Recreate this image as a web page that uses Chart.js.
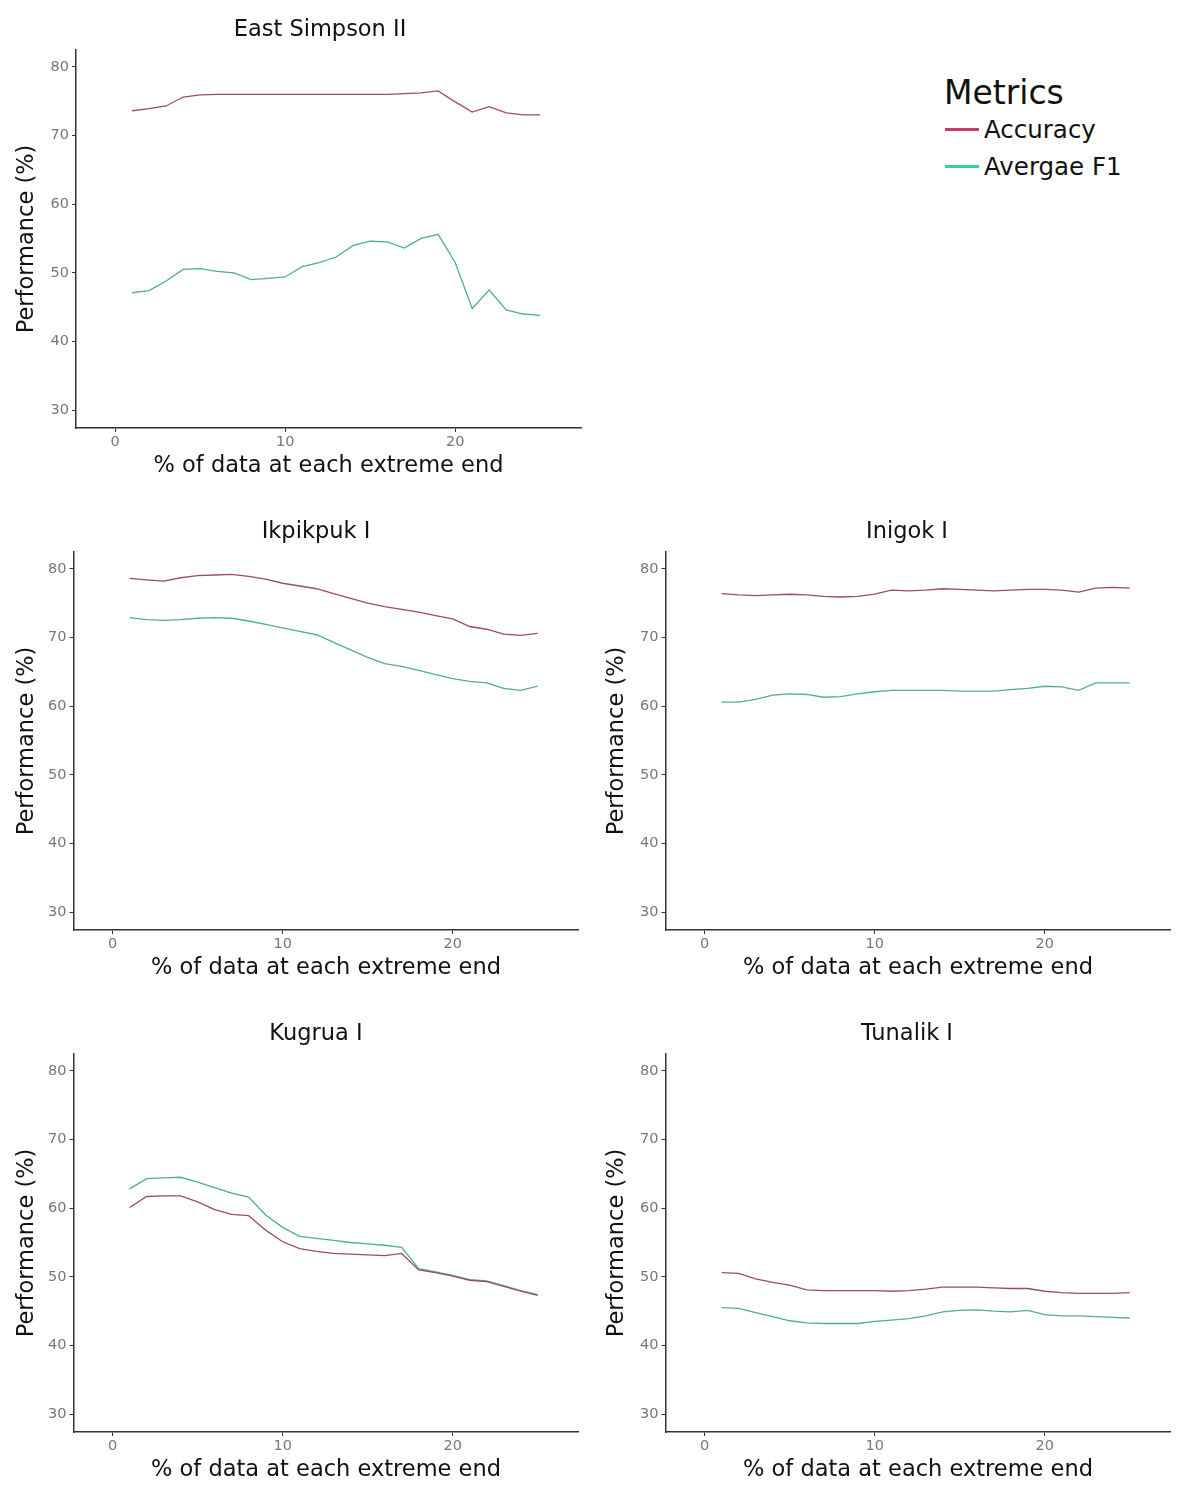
<!DOCTYPE html>
<html><head><meta charset="utf-8">
<script src="https://cdn.jsdelivr.net/npm/chart.js@4.4.1/dist/chart.umd.min.js"></script>
<style>
body{margin:0;background:#fff;width:1177px;height:1485px;position:relative;overflow:hidden;font-family:"DejaVu Sans",sans-serif}
canvas{position:absolute}
#legend{position:absolute;left:944px;top:75px;color:#111}
#legend .t{font-size:33px;line-height:36px;margin-left:0px}
#legend .it{position:relative;height:37px;font-size:24.5px;line-height:37px;padding-left:40px}
#legend .sw{position:absolute;left:1px;top:17px;width:34px;height:3px}
</style></head><body>
<canvas id="c0" width="590" height="484" style="left:0;top:0"></canvas>
<canvas id="c1" width="590" height="484" style="left:0;top:502px"></canvas>
<canvas id="c2" width="587" height="484" style="left:590px;top:502px"></canvas>
<canvas id="c3" width="590" height="484" style="left:0;top:1004px"></canvas>
<canvas id="c4" width="587" height="484" style="left:590px;top:1004px"></canvas>
<div id="legend">
  <div class="t">Metrics</div>
  <div class="it"><span class="sw" style="background:#c83a6a"></span>Accuracy</div>
  <div class="it"><span class="sw" style="background:#2fd3a2"></span>Avergae F1</div>
</div>
<script>
// ---- data ----
const xPercent = [1,2,3,4,5,6,7,8,9,10,11,12,13,14,15,16,17,18,19,20,21,22,23,24,25];
const panelTitles = ["East Simpson II","Ikpikpuk I","Inigok I","Kugrua I","Tunalik I"];
const seriesNames = ["Accuracy","Avergae F1"];
const yTicks = [30,40,50,60,70,80];
const xTicks = [0,10,20];

const accEastSimpson = [73.6,73.9,74.3,75.6,75.9,76.0,76.0,76.0,76.0,76.0,76.0,76.0,76.0,76.0,76.0,76.0,76.1,76.2,76.5,74.9,73.4,74.2,73.3,73.0,73.0];
const f1EastSimpson  = [47.1,47.4,48.8,50.5,50.6,50.2,50.0,49.0,49.2,49.4,50.9,51.5,52.3,54.0,54.6,54.5,53.6,55.0,55.6,51.5,44.8,47.5,44.6,44.0,43.8];

const accIkpikpuk = [78.6,78.4,78.2,78.7,79.0,79.1,79.2,78.9,78.5,77.9,77.5,77.1,76.4,75.7,75.0,74.5,74.1,73.7,73.2,72.7,71.6,71.2,70.5,70.3,70.6];
const f1Ikpikpuk  = [72.9,72.6,72.5,72.6,72.8,72.9,72.8,72.4,71.9,71.4,70.9,70.4,69.3,68.2,67.1,66.2,65.8,65.2,64.6,64.0,63.6,63.4,62.6,62.3,62.9];

const accInigok = [76.4,76.2,76.1,76.2,76.3,76.2,76.0,75.9,76.0,76.3,76.9,76.8,76.9,77.1,77.0,76.9,76.8,76.9,77.0,77.0,76.9,76.6,77.2,77.3,77.2];
const f1Inigok  = [60.6,60.6,61.0,61.6,61.8,61.7,61.3,61.4,61.8,62.1,62.3,62.3,62.3,62.3,62.2,62.2,62.2,62.4,62.6,62.9,62.8,62.3,63.4,63.4,63.4];

const accKugrua = [60.1,61.7,61.8,61.8,60.9,59.8,59.1,58.9,56.8,55.1,54.1,53.7,53.4,53.3,53.2,53.1,53.4,51.0,50.6,50.1,49.5,49.3,48.6,47.9,47.3];
const f1Kugrua  = [62.8,64.3,64.4,64.5,63.8,63.0,62.2,61.6,59.0,57.2,55.9,55.6,55.3,55.0,54.8,54.6,54.3,51.2,50.7,50.2,49.6,49.4,48.7,48.0,47.4];

const accTunalik = [50.6,50.5,49.7,49.2,48.8,48.1,48.0,48.0,48.0,48.0,47.9,48.0,48.2,48.5,48.5,48.5,48.4,48.3,48.3,47.9,47.7,47.6,47.6,47.6,47.7];
const f1Tunalik  = [45.5,45.4,44.8,44.2,43.6,43.3,43.2,43.2,43.2,43.5,43.7,43.9,44.3,44.9,45.1,45.2,45.0,44.9,45.1,44.5,44.3,44.3,44.2,44.1,44.0];

const panelAcc = [accEastSimpson, accIkpikpuk, accInigok, accKugrua, accTunalik];
const panelF1  = [f1EastSimpson, f1Ikpikpuk, f1Inigok, f1Kugrua, f1Tunalik];

// ---- layout / style ----
const X_MIN = -2.3, X_MAX = 27.4, Y_MIN = 27.4, Y_MAX = 82.45;
const axisLeft = [76, 73.5, 665.5, 73.5, 665.5];   // page x of y-axis line
const canvasLeft = [0, 0, 590, 0, 590];
const canvasW = [590, 590, 587, 590, 587];
const titleCenter = [320, 316, 317, 316, 317];      // canvas x of panel title centre
const plotW = 505;
const accColor = '#a04a68', f1Color = '#4fae94';
const FONT = 'DejaVu Sans';

function toXY(vals){ return vals.map((v,i)=>({x:xPercent[i], y:v})); }

const titleShift = {
  id: 'titleShift',
  afterLayout(chart, args, opts) {
    const t = chart.titleBlock;
    if (!t) return;
    const d = opts.center - (t.left + t.right) / 2;
    t.left += d; t.right += d;
  }
};

for (let p = 0; p < 5; p++) {
  const padL = 11;
  const yW = axisLeft[p] - canvasLeft[p] - padL;
  const padR = canvasW[p] - (axisLeft[p] - canvasLeft[p]) - plotW;
  new Chart(document.getElementById('c'+p), {
    type: 'line',
    data: { datasets: [
      { label: seriesNames[0], data: toXY(panelAcc[p]), borderColor: accColor, borderWidth: 1.3, pointRadius: 0, tension: 0, fill: false },
      { label: seriesNames[1], data: toXY(panelF1[p]), borderColor: f1Color, borderWidth: 1.3, pointRadius: 0, tension: 0, fill: false }
    ]},
    plugins: [titleShift],
    options: {
      responsive: false, animation: false, devicePixelRatio: 1,
      layout: { padding: { left: padL, right: padR, top: 0, bottom: 0 } },
      plugins: {
        legend: { display: false }, tooltip: { enabled: false },
        titleShift: { center: titleCenter[p] },
        title: { display: true, text: panelTitles[p], color: '#111',
                 font: { family: FONT, size: 22.5, weight: 'normal' },
                 padding: { top: 16.5, bottom: 6.5 } }
      },
      scales: {
        x: {
          type: 'linear', min: X_MIN, max: X_MAX,
          afterBuildTicks: s => { s.ticks = xTicks.map(v => ({ value: v })); },
          ticks: { color: '#777', font: { family: FONT, size: 14.5 }, padding: 2, includeBounds: false },
          grid: { display: true, drawOnChartArea: false, drawTicks: true, tickLength: 4, tickColor: '#333', tickWidth: 1 },
          border: { display: true, color: '#333', width: 1.5 },
          title: { display: true, text: '% of data at each extreme end', color: '#111',
                   font: { family: FONT, size: 22.5 }, padding: { top: 2, bottom: 4 } },
          afterFit: s => { s.height = 56; }
        },
        y: {
          type: 'linear', min: Y_MIN, max: Y_MAX,
          afterBuildTicks: s => { s.ticks = yTicks.map(v => ({ value: v })); },
          ticks: { color: '#777', font: { family: FONT, size: 14.5 }, padding: 3, includeBounds: false },
          grid: { display: true, drawOnChartArea: false, drawTicks: true, tickLength: 4, tickColor: '#333', tickWidth: 1 },
          border: { display: true, color: '#333', width: 1.5 },
          title: { display: true, text: 'Performance (%)', color: '#111',
                   font: { family: FONT, size: 22.5 }, padding: { top: 2.5, bottom: 2 } },
          afterFit: s => { s.width = yW; }
        }
      }
    }
  });
}
</script>
</body></html>
